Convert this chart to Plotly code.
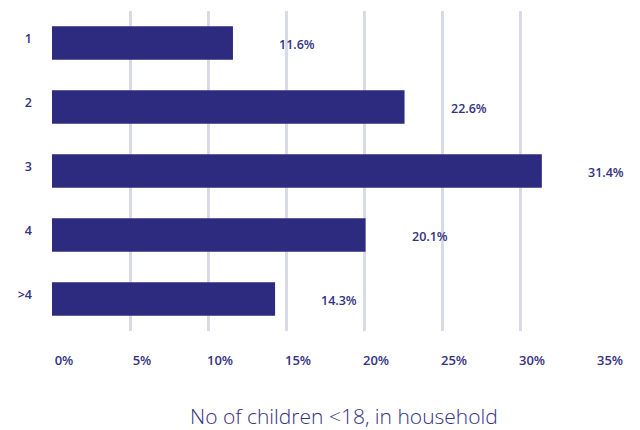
import plotly.graph_objects as go

categories = ["1", "2", "3", "4", ">4"]
values = [11.6, 22.6, 31.4, 20.1, 14.3]
value_labels = ["11.6%", "22.6%", "31.4%", "20.1%", "14.3%"]
x_tick_vals = [0, 5, 10, 15, 20, 25, 30, 35]
x_tick_text = ["0%", "5%", "10%", "15%", "20%", "25%", "30%", "35%"]
axis_title = "No of children <18, in household"

NAVY = "#2D2B7F"
TEXT = "#34317F"
GRID = "#DAD9E8"
FONT = "Open Sans"

fig = go.Figure(go.Bar(
    x=values, y=list(range(len(categories))), orientation="h",
    marker=dict(color=NAVY, line=dict(width=0)),
    width=0.52, hoverinfo="skip",
))

for i, (v, t) in enumerate(zip(values, value_labels)):
    fig.add_annotation(x=v, y=i, text=t, showarrow=False, xanchor="center",
                       yanchor="middle", xshift=64, yshift=-1,
                       font=dict(family=FONT, size=12.5, color=TEXT, weight=600))

fig.add_annotation(x=0.5, y=0, xref="paper", yref="paper", text=axis_title,
                   showarrow=False, xanchor="center", yanchor="middle",
                   xshift=19, yshift=-85,
                   font=dict(family=FONT, size=21, color=TEXT, weight=300))

fig.update_layout(
    width=640, height=430,
    margin=dict(l=52, r=42, t=11, b=99),
    paper_bgcolor="white", plot_bgcolor="white",
    showlegend=False,
    xaxis=dict(range=[0, 35], tickvals=x_tick_vals, ticktext=x_tick_text,
               showgrid=True, gridcolor=GRID, gridwidth=2.5,
               zeroline=False, showline=False, ticks="",
               ticklabelshift=12, ticklabelstandoff=20,
               tickfont=dict(family=FONT, size=13, color=TEXT, weight=600),
               fixedrange=True),
    yaxis=dict(range=[4.5, -0.5], tickvals=list(range(len(categories))),
               ticktext=categories,
               showgrid=False, zeroline=False, showline=False, ticks="",
               ticklabelstandoff=19, ticklabelshift=4,
               tickfont=dict(family=FONT, size=12.5, color=TEXT, weight=600),
               fixedrange=True),
)

fig.write_html("out.html", config={"displayModeBar": False},
               post_script="document.body.style.margin='0';")
